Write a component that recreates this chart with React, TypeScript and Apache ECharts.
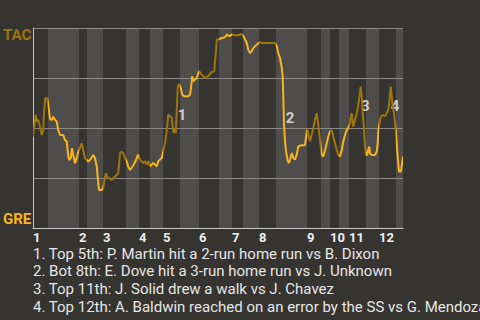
import React, { useEffect, useRef } from "react";
import * as echarts from "echarts";

// Half-inning boundaries in play-index units (top/bottom alternate)
const halfInningBounds = [0, 6, 18.4, 21.6, 28, 37.2, 42.4, 46.8, 52, 58.8, 66.4, 74.4, 79.6, 84, 90.4, 97.2, 109.6, 115.2, 118.8, 122.4, 126.4, 133.2, 138.4, 145.2, 148];
const inningLabels = ["1", "2", "3", "4", "5", "6", "7", "8", "9", "10", "11", "12"];

const playIndex = [0, 1.1, 1.5, 2.1, 2.8, 3.5, 4.1, 4.4, 4.9, 5.7, 6.1, 6.8, 7.5, 8.1, 8.8, 9.5, 10.1, 10.8, 12.1, 12.8, 13.5, 14.1, 14.5, 15.1, 15.6, 16.1, 16.8, 17.5, 18.1, 18.8, 19.5, 20.1, 20.8, 21.5, 22.1, 22.8, 24.1, 24.8, 25.5, 26.1, 26.4, 27.5, 28.1, 28.8, 29.2, 29.9, 30.8, 31.5, 32.1, 33.5, 34.1, 34.8, 35.5, 36.1, 36.8, 37.5, 38.1, 38.8, 40, 41.2, 42, 42.8, 44.1, 44.8, 45.5, 46.1, 46.8, 47.5, 48.1, 48.8, 49.5, 50.1, 50.8, 51.5, 52.1, 52.8, 53.5, 54.1, 54.8, 55.5, 56.1, 56.5, 56.8, 57.1, 57.5, 57.9, 58.4, 59.1, 59.7, 60.4, 62.1, 62.8, 63.2, 63.7, 64.1, 64.8, 65.5, 66.4, 67.5, 68.8, 70.1, 71.5, 72.5, 72.8, 73.2, 73.5, 74.1, 75.5, 76.8, 77.5, 78.5, 79.5, 80.8, 82.1, 83.5, 84.4, 85.5, 86.1, 86.8, 87.5, 88.1, 89.5, 90.8, 91.5, 96.8, 97.5, 98.1, 98.8, 99.5, 99.9, 100.1, 100.4, 100.8, 101.2, 101.9, 102.4, 102.8, 103.5, 104.1, 104.8, 105.5, 106.1, 107.5, 108.8, 109.2, 109.7, 110.3, 110.8, 111.5, 112.1, 112.8, 113.5, 114.1, 114.8, 115.5, 116.1, 116.8, 117.5, 118.1, 118.8, 119.5, 120.1, 120.8, 121.5, 122.1, 122.8, 123.5, 124.1, 124.8, 125.5, 126.1, 126.8, 127.1, 127.5, 127.9, 128.1, 128.8, 129.5, 130.1, 130.8, 131.1, 131.5, 131.9, 132.4, 132.8, 133.2, 133.7, 134.1, 134.5, 134.8, 135.5, 136.8, 137.5, 137.9, 138.1, 138.4, 138.8, 139.2, 139.9, 140.8, 141.5, 142.1, 142.5, 142.8, 143.1, 143.5, 143.9, 144.4, 144.8, 145.2, 145.5, 145.7, 146.1, 146.4, 147.2, 147.7, 148];
const tacWinPct = [45.7, 56.5, 53.2, 54, 50.7, 46.5, 49, 57.4, 64.9, 64.9, 61.5, 54.4, 54, 55.7, 54, 53.2, 49, 46.5, 46.5, 44, 43.2, 35.7, 34, 34.9, 39.9, 36.5, 32.4, 34.9, 38.2, 39.9, 42.4, 39, 34.9, 34, 33.2, 34, 36.5, 34.9, 30.7, 22.4, 19, 19, 19.9, 25.7, 27.4, 24.9, 24.9, 24, 24.9, 26.5, 27.4, 37.4, 38.2, 37.4, 34.9, 33.2, 30.7, 29, 31, 34, 36.7, 34.2, 32.5, 33.4, 31.7, 33.4, 30.9, 31.7, 32.5, 31.7, 30.9, 33.4, 34.2, 35, 38.4, 42.5, 48.4, 56.7, 55.9, 55, 48.4, 47.5, 50, 47.5, 58.4, 70.9, 72, 70, 66.7, 65.9, 65.9, 66.7, 70, 75.9, 73.4, 74.2, 75, 78.4, 76.7, 75, 75.9, 78, 78.4, 83.4, 88.4, 94.2, 94.2, 95, 95.4, 96.7, 95.9, 96.7, 96.4, 96.4, 97, 95.4, 92.5, 89.2, 87.5, 88.4, 90, 91.7, 93, 92.5, 92.5, 90.9, 87.5, 85, 80, 75, 66.7, 51.7, 43.4, 38.4, 33.4, 32.5, 34.2, 37.5, 35, 34.2, 36.7, 40.9, 41.4, 41.4, 45, 49.2, 45.9, 43.4, 46.7, 50, 54.2, 57.4, 51.5, 44, 36.5, 35.7, 39, 42.4, 45.7, 48.2, 49, 45.7, 42.4, 39, 36.5, 35.7, 39, 43.2, 46.5, 49, 49.9, 52.4, 55.7, 57.4, 52.4, 50.7, 54, 57.4, 61.5, 67.4, 70.7, 65.7, 57.4, 49, 40.7, 36.5, 36.5, 39, 40.7, 37.4, 36.5, 36.5, 38.2, 42.4, 48.2, 50.7, 54, 55.7, 56.5, 56, 57.4, 59, 62.4, 67.4, 70.7, 65.7, 60.7, 57.4, 52.4, 47.4, 42.4, 38.2, 32.5, 28.2, 28.2, 33.2, 35.7];

const annotationIds = ["1", "2", "3", "4"];
const annotationX = [59.6, 102.8, 132.9, 144.8];
const annotationY = [56.5, 55.25, 61, 61];

const notes = [
  "1. Top 5th: P. Martin hit a 2-run home run vs B. Dixon",
  "2. Bot 8th: E. Dove hit a 3-run home run vs J. Unknown",
  "3. Top 11th: J. Solid drew a walk vs J. Chavez",
  "4. Top 12th: A. Baldwin reached on an error by the SS vs G. Mendoza",
];

const BG = "#363430";
const BAND = "#4e4d4b";
const DARK = "#9e740c";
const BRIGHT = "#f8b41b";

export default function App() {
  const ref = useRef<HTMLDivElement>(null);
  useEffect(() => {
    document.body.style.margin = "0";
    document.body.style.background = BG;
    const chart = echarts.init(ref.current!, null, { renderer: "svg" });
    const inningStarts = halfInningBounds.filter((_, i) => i % 2 === 0 && i < halfInningBounds.length - 1);
    const bottomHalves: number[][] = [];
    const pieces: any[] = [];
    for (let i = 0; i < halfInningBounds.length - 1; i++) {
      const s = halfInningBounds[i], e = halfInningBounds[i + 1];
      if (i % 2 === 1) bottomHalves.push([s, e]);
      const last = i === halfInningBounds.length - 2;
      pieces.push(last ? { gte: s, lte: e, color: i % 2 === 0 ? DARK : BRIGHT } : { gte: s, lt: e, color: i % 2 === 0 ? DARK : BRIGHT });
    }
    chart.setOption({
      animation: false,
      backgroundColor: BG,
      textStyle: { fontFamily: "Roboto" },
      grid: { left: 33, top: 28, width: 370, height: 200 },
      xAxis: {
        type: "value",
        min: 0,
        max: 148,
        splitLine: { show: false },
        axisTick: { show: false },
        axisLine: { show: true, lineStyle: { color: "#c4c4c4", width: 1 } },
        axisLabel: {
          customValues: inningStarts,
          formatter: (v: number) => inningLabels[inningStarts.indexOf(v)] ?? "",
          align: "left",
          margin: 3,
          color: "#eeeeee",
          fontWeight: "bold",
          fontSize: 13,
          lineHeight: 12,
          fontFamily: "Roboto",
        },
      },
      yAxis: {
        type: "value",
        min: 0,
        max: 100,
        interval: 25,
        axisLabel: { show: false },
        axisTick: { show: false },
        axisLine: { show: true, lineStyle: { color: "#c4c4c4", width: 1 } },
        splitLine: { show: true, lineStyle: { color: "#8b8a88", width: 1 } },
      },
      visualMap: {
        type: "piecewise",
        show: false,
        seriesIndex: 1,
        dimension: 0,
        pieces,
      },
      series: [
        {
          type: "custom",
          z: -1,
          silent: true,
          data: bottomHalves,
          encode: { x: [0, 1] },
          renderItem: (params: any, api: any) => {
            const p0 = api.coord([api.value(0), 100]);
            const p1 = api.coord([api.value(1), 0]);
            return {
              type: "rect",
              shape: { x: p0[0], y: p0[1], width: p1[0] - p0[0], height: p1[1] - p0[1] },
              style: { fill: BAND },
            };
          },
        },
        {
          type: "line",
          showSymbol: false,
          symbol: "none",
          lineStyle: { width: 2 },
          data: playIndex.map((x, i) => [x, tacWinPct[i]]),
        },
        {
          type: "scatter",
          symbolSize: 0,
          silent: true,
          data: annotationIds.map((id, i) => ({ value: [annotationX[i], annotationY[i]], name: id })),
          label: {
            show: true,
            position: "inside",
            formatter: (p: any) => p.name,
            color: "#f2f2f2",
            fontSize: 15,
            fontWeight: "bold",
            fontFamily: "Roboto",
          },
        },
      ],
      graphic: [
        {
          type: "text",
          left: 3,
          top: 27,
          style: { text: "TAC", fill: DARK, font: "bold 15px Roboto" },
        },
        {
          type: "text",
          left: 3,
          top: 211,
          style: { text: "GRE", fill: BRIGHT, font: "bold 15px Roboto" },
        },
        ...notes.map((t, i) => ({
          type: "text",
          x: 33,
          y: 253.5 + i * 17.8,
          style: { text: t, fill: "#e6e6e6", font: "15px Roboto", verticalAlign: "middle", lineHeight: 14 },
        })),
      ],
    });
    return () => chart.dispose();
  }, []);
  return <div ref={ref} style={{ position: "absolute", left: 0, top: 0, width: 480, height: 320 }} />;
}
